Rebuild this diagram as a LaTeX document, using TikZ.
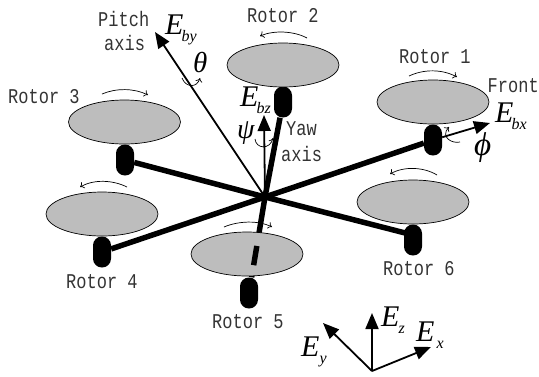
\documentclass[tikz,border=0pt]{standalone}
\usepackage{fontspec}
\setmainfont{Liberation Serif}
\newfontfamily\labmono[FakeStretch=0.81]{Liberation Mono}
\usetikzlibrary{arrows.meta,calc,shapes.geometric}
\newcommand{\BigE}[1]{{\fontsize{30}{30}\selectfont\itshape E}\raisebox{-7pt}{\fontsize{16}{16}\selectfont\itshape\kern-2pt #1}}
\newcommand{\BigG}[2]{{\fontsize{#1}{#1}\selectfont\itshape #2}}
\tikzset{
  x=1pt,y=-1pt,
  rotor/.style={draw=black,line width=0.7pt,fill=black!26,ellipse,minimum width=112pt,minimum height=44pt,inner sep=0pt},
  pod/.style={fill=black,rounded corners=8.9pt,minimum width=18pt,minimum height=31pt,inner sep=0pt},
  arm/.style={line width=5.5pt,black},
  lab/.style={font=\labmono\fontsize{21}{21}\selectfont,text=black!80,anchor=base west,inner sep=0pt},
  math/.style={anchor=base west,inner sep=0pt},
  axis/.style={line width=1.8pt,-{Triangle[length=16pt,width=13pt]}},
  spin/.style={line width=0.7pt,-{To[length=4pt,width=7pt]}}
}
\begin{document}
\begin{tikzpicture}
\useasboundingbox (0,0) rectangle (539,376);
\coordinate (hub) at (265,197);
\node[pod] (p1) at (433,140) {};
\node[pod] (p2) at (283,102) {};
\node[pod] (p3) at (125,160) {};
\node[pod] (p4) at (102,252) {};
\node[pod] (p5) at (249,293) {};
\node[pod] (p6) at (413,240) {};
\coordinate (p6arm) at (413,235);
\draw[arm] (hub) -- (p1);
\draw[arm] (hub) -- (p2);
\draw[arm] (hub) -- (p3);
\draw[arm] (hub) -- (p4);
\draw[arm] (hub) -- (p5);
\draw[arm] (hub) -- (p6arm);
\node[rotor] (r1) at (433,102) {};
\node[rotor] (r2) at (283,65) {};
\node[rotor] (r3) at (124.5,122) {};
\node[rotor] (r4) at (102,214) {};
\node[rotor] (r5) at (247,254) {};
\node[rotor] (r6) at (413,202) {};
\draw[arm] ($(hub)!.51!(p5)$) coordinate (d1) -- ($(hub)!.71!(p5)$) coordinate (d2);
% body axes
\coordinate (tipBy) at (155,32);
\coordinate (tipBz) at (264,115);
\coordinate (tipBx) at (490,123);
\draw[axis] (hub) -- (tipBy);
\draw[axis] (hub) -- (tipBz);
\draw[axis] (p1) -- (tipBx);
% earth axes
\coordinate (o) at (372,371);
\coordinate (ez) at (372,313);
\coordinate (ex) at (431,347);
\coordinate (ey) at (323,323);
\draw[axis] (o) -- (ez);
\draw[axis] (o) -- (ex);
\draw[axis] (o) -- (ey);
% rotor spin arrows
\draw[spin] (102,94) .. controls (116,88) and (134,88) .. (148,95);
\draw[spin] (307,38) .. controls (294,31) and (274,30) .. (260,36);
\draw[spin] (409,76) .. controls (424,69) and (442,69) .. (457,77);
\draw[spin] (127,187) .. controls (113,180) and (94,179) .. (80,187);
\draw[spin] (437,175) .. controls (424,167) and (404,166) .. (390,174);
\draw[spin] (224,227) .. controls (238,221) and (258,220) .. (272,227);
% axis rotation arrows
\draw[spin] (182,78) .. controls (186,88) and (197,88) .. (200,78);
\draw[spin] (255,139) .. controls (256,149) and (270,150) .. (273,138);
\draw[spin] (460,142) .. controls (452,144) and (440,137) .. (449,127);
% text
\node[lab] (tPitch) at (98,26) {Pitch};
\node[lab] (tAxisP) at (104,50) {axis};
\node[lab] (tYaw) at (286,135) {Yaw};
\node[lab] (tAxisY) at (281,161) {axis};
\node[lab] (tFront) at (487.5,92) {Front};
\node[lab] (t1) at (399,63) {Rotor 1};
\node[lab] (t2) at (247,22) {Rotor 2};
\node[lab] (t3) at (8,103) {Rotor 3};
\node[lab] (t4) at (66,288) {Rotor 4};
\node[lab] (t5) at (212,328) {Rotor 5};
\node[lab] (t6) at (383,275) {Rotor 6};
\node[math] (mBy) at (165,34) {\BigE{by}};
\node[math] (mBz) at (240,106) {\BigE{bz}};
\node[math] (mBx) at (495,122) {\BigE{bx}};
\node[math] (mY) at (301,356) {\BigE{\kern2pt y}};
\node[math] (mZ) at (381,326) {\BigE{\kern1pt z}};
\node[math] (mX) at (416,341) {\BigE{\kern4pt x}};
\node[math] (mTheta) at (193,72) {\BigG{29}{θ}};
\node[math] (mPsi) at (237,138) {\BigG{28}{ψ}};
\node[math] (mPhi) at (474,155) {\BigG{33}{ϕ}};
\end{tikzpicture}
\end{document}
